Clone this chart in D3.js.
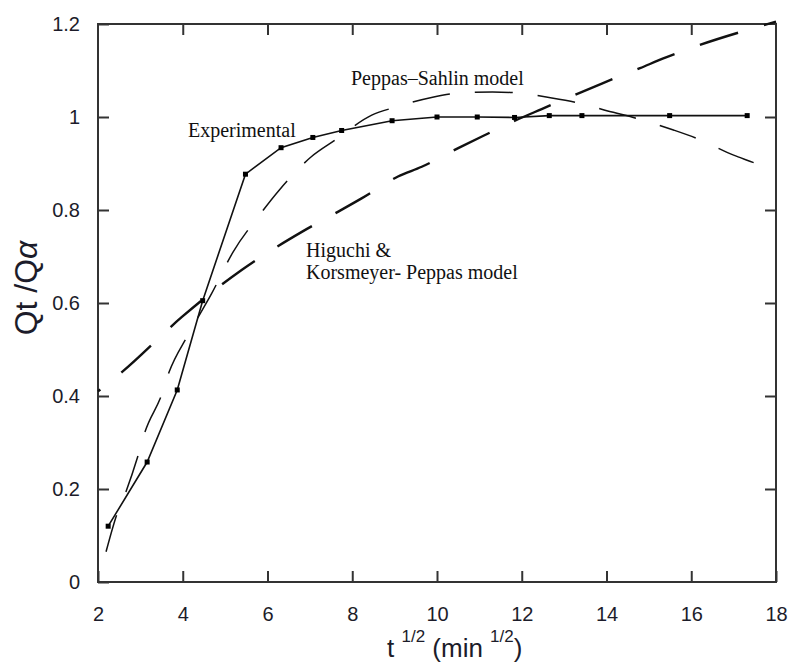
<!DOCTYPE html>
<html>
<head>
<meta charset="utf-8">
<script src="https://cdn.jsdelivr.net/npm/d3@7"></script>
<style>
  html, body { margin: 0; padding: 0; background: #fff; }
  svg { display: block; }
  .note { font-family: "Liberation Serif", "DejaVu Serif", "Times New Roman", serif; font-size: 20px; }
  .lbl { font-family: "Liberation Sans", Arial, sans-serif; }
</style>
</head>
<body>
<svg id="chart" width="791" height="663"></svg>
<script>
// Release profile: fraction released vs. square root of time
const xTicks = [2, 4, 6, 8, 10, 12, 14, 16, 18];
const yTicks = [0, 0.2, 0.4, 0.6, 0.8, 1, 1.2];
const yTickLabels = ["0", "0.2", "0.4", "0.6", "0.8", "1", "1.2"];

// Experimental release (t^1/2, Qt/Qα)
const expX = [2.24, 3.16, 3.87, 4.47, 5.48, 6.32, 7.07, 7.75, 8.94, 10, 10.95, 11.83, 12.65, 13.42, 15.49, 17.32];
const expY = [0.12, 0.258, 0.413, 0.605, 0.877, 0.934, 0.956, 0.971, 0.992, 1.0, 1.0, 0.999, 1.003, 1.003, 1.003, 1.003];

// Peppas–Sahlin model fit
const psX = [2.19, 2.44, 2.66, 2.95, 3.11, 3.5, 3.68, 4.11, 4.68, 5.19, 5.81, 6.28, 7.04, 7.59, 8.46, 9.05, 9.87, 10.47, 11.31, 11.88, 12.71, 13.3, 14.16, 14.71, 15.58, 16.13, 17.0, 17.55, 18.0];
const psY = [0.065, 0.144, 0.194, 0.273, 0.323, 0.402, 0.452, 0.529, 0.62, 0.71, 0.789, 0.843, 0.915, 0.95, 1.004, 1.022, 1.042, 1.051, 1.054, 1.052, 1.041, 1.031, 1.01, 0.997, 0.972, 0.954, 0.918, 0.899, 0.88];

// Higuchi & Korsmeyer–Peppas model fit
const hkX = [2.0, 2.57, 3.98, 4.56, 5.39, 6.81, 7.66, 8.22, 9.08, 9.64, 10.5, 11.06, 11.84, 12.47, 13.34, 13.89, 14.79, 15.34, 18.0];
const hkY = [0.41, 0.452, 0.57, 0.614, 0.671, 0.753, 0.796, 0.825, 0.872, 0.893, 0.933, 0.958, 0.992, 1.017, 1.051, 1.072, 1.105, 1.126, 1.205];

const margin = { left: 98, top: 24, right: 15, bottom: 81 };
const W = 791, H = 663;
const iw = W - margin.left - margin.right;   // 678
const ih = H - margin.top - margin.bottom;   // 558

const svg = d3.select("#chart");
svg.append("rect").attr("width", W).attr("height", H).attr("fill", "#fff");

const x = d3.scaleLinear().domain([2, 18]).range([0, iw]);
const y = d3.scaleLinear().domain([0, 1.2]).range([ih, 0]);

const g = svg.append("g").attr("transform", `translate(${margin.left},${margin.top})`);

const axisColor = "#333";
const tickLen = 11;

// Axes with inward ticks on all four sides
const axisB = g.append("g").attr("transform", `translate(0,${ih})`)
  .call(d3.axisBottom(x).tickValues(xTicks).tickFormat(d3.format("d"))
    .tickSizeInner(-tickLen).tickSizeOuter(0).tickPadding(25));
const axisL = g.append("g")
  .call(d3.axisLeft(y).tickValues(yTicks).tickFormat((d, i) => yTickLabels[i])
    .tickSizeInner(-tickLen).tickSizeOuter(0).tickPadding(18));
const axisT = g.append("g")
  .call(d3.axisTop(x).tickValues(xTicks.slice(1, -1)).tickFormat("")
    .tickSizeInner(-tickLen).tickSizeOuter(0));
const axisR = g.append("g").attr("transform", `translate(${iw},0)`)
  .call(d3.axisRight(y).tickValues(yTicks.slice(1, -1)).tickFormat("")
    .tickSizeInner(-tickLen).tickSizeOuter(0));

[axisB, axisL, axisT, axisR].forEach(a => {
  a.attr("font-family", null).attr("font-size", null);
  a.select(".domain").remove();
  a.selectAll(".tick line").attr("stroke", axisColor).attr("stroke-width", 2);
  a.selectAll(".tick text")
    .attr("class", "lbl")
    .attr("fill", "#1c1c2a")
    .style("font-size", "20px");
});

// Frame
g.append("rect")
  .attr("x", 0).attr("y", 0).attr("width", iw).attr("height", ih)
  .attr("fill", "none").attr("stroke", axisColor).attr("stroke-width", 2);

// Curves
const line = d3.line().x(d => x(d[0])).y(d => y(d[1]));
const smooth = d3.line().x(d => x(d[0])).y(d => y(d[1])).curve(d3.curveMonotoneX);

const hkData = hkX.map((v, i) => [v, hkY[i]]);
const psData = psX.map((v, i) => [v, psY[i]]);
const expData = expX.map((v, i) => [v, expY[i]]);

g.append("path").datum(hkData)
  .attr("d", smooth)
  .attr("fill", "none").attr("stroke", "#111").attr("stroke-width", 2.4)
  .attr("stroke-dasharray", "40,27").attr("stroke-dashoffset", 37);

g.append("path").datum(psData)
  .attr("d", smooth)
  .attr("fill", "none").attr("stroke", "#111").attr("stroke-width", 1.5)
  .attr("stroke-dasharray", "38,25");

g.append("path").datum(expData)
  .attr("d", line)
  .attr("fill", "none").attr("stroke", "#111").attr("stroke-width", 1.6);

g.selectAll("rect.pt").data(expData).enter().append("rect")
  .attr("class", "pt")
  .attr("x", d => x(d[0]) - 2.5).attr("y", d => y(d[1]) - 2.5)
  .attr("width", 5).attr("height", 5).attr("fill", "#000");

// Annotations
const notes = [
  { text: "Experimental", x: 188, y: 137 },
  { text: "Peppas\u2013Sahlin model", x: 351, y: 85 },
  { text: "Higuchi &", x: 306, y: 257 },
  { text: "Korsmeyer- Peppas model", x: 306, y: 279 }
];
svg.selectAll("text.note").data(notes).enter().append("text")
  .attr("class", "note")
  .attr("x", d => d.x).attr("y", d => d.y)
  .attr("fill", "#111")
  .text(d => d.text);

// Axis titles
const xt = svg.append("text")
  .attr("class", "lbl")
  .attr("x", 387).attr("y", 657)
  .attr("fill", "#1c1c2a")
  .style("font-size", "26px");
xt.append("tspan").text("t ");
xt.append("tspan").attr("dy", -15).style("font-size", "17px").text("1/2");
xt.append("tspan").attr("dy", 15).text(" (min ");
xt.append("tspan").attr("dy", -15).style("font-size", "17px").text("1/2");
xt.append("tspan").attr("dy", 15).text(")");

const yt = svg.append("text")
  .attr("class", "lbl")
  .attr("transform", "translate(37,288) rotate(-90)")
  .attr("text-anchor", "middle")
  .attr("fill", "#1c1c2a")
  .style("font-size", "32px");
yt.append("tspan").text("Qt /Q");
yt.append("tspan").style("font-style", "italic").text("\u03b1");
</script>
</body>
</html>
